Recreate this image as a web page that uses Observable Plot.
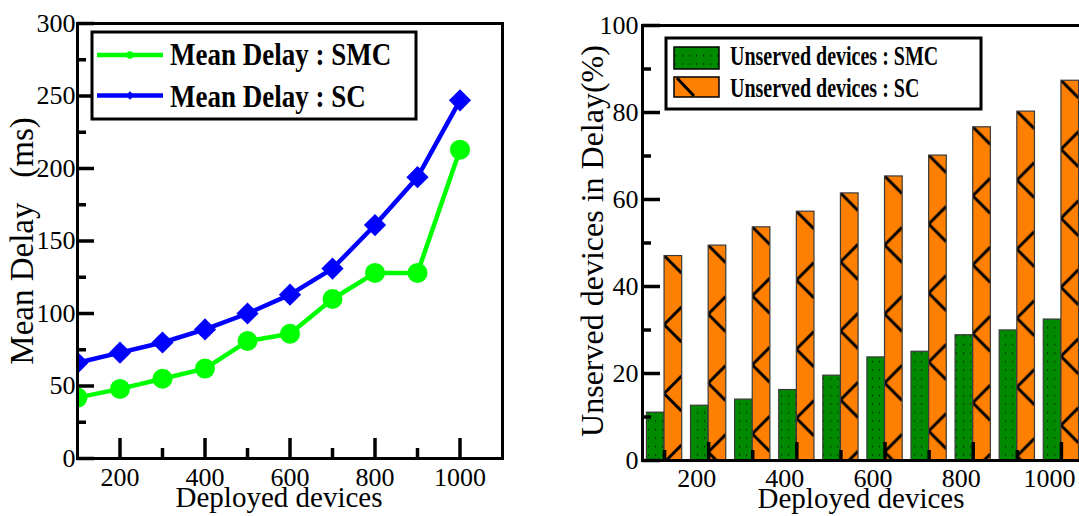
<!DOCTYPE html>
<html>
<head>
<meta charset="utf-8">
<script src="https://cdn.jsdelivr.net/npm/d3@7"></script>
<script src="https://cdn.jsdelivr.net/npm/@observablehq/plot@0.6"></script>
<style>
  html, body { margin: 0; padding: 0; background: #fff; overflow: hidden; }
  #fig { position: relative; width: 1079px; height: 516px; }
  #fig > svg { position: absolute; top: 0; }
  #overlay { left: 0; pointer-events: none; }
  #overlay text { white-space: pre; }
</style>
</head>
<body>
<div id="fig"></div>
<script>
// ---- data -------------------------------------------------------------
const devices = [100, 200, 300, 400, 500, 600, 700, 800, 900, 1000];

// mean delay (ms)
const delaySMC = [42, 48, 55, 62, 81, 86, 110, 128, 128, 213];
const delaySC  = [66, 73, 80, 89, 100, 113, 131, 161, 194, 247];

// unserved devices in delay (%)
const unservedSMC = [11.0, 12.6, 14.0, 16.2, 19.5, 23.7, 25.0, 28.8, 29.9, 32.4];
const unservedSC  = [47.0, 49.4, 53.6, 57.2, 61.4, 65.3, 70.1, 76.6, 80.2, 87.3];

const delayLegend    = ["Mean Delay : SMC", "Mean Delay : SC"];
const unservedLegend = ["Unserved devices : SMC", "Unserved devices : SC"];

const deviceTicks      = [200, 400, 600, 800, 1000];
const deviceMinorLeft  = [300, 500, 700, 900];
const deviceMinorRight = [100, 300, 500, 700, 900];
const delayTicks       = [0, 50, 100, 150, 200, 250, 300];
const delayMinor       = [25, 75, 125, 175, 225, 275];
const shareTicks       = [0, 20, 40, 60, 80, 100];
const shareMinor       = [10, 30, 50, 70, 90];

// ---- styling ----------------------------------------------------------
const SERIF  = '"Liberation Serif", "Times New Roman", serif';
const LIME   = "#00ff00";
const BLUE   = "#0000ff";
const GREEN  = "#008a00";
const ORANGE = "#ff8000";
const TICK_W = 3.5;
const BAR_HALF = 40;        // width of one bar, in device units
const CHEVRON_PERIOD = 69;  // vertical repeat of the SC hatching (px)

const delayRows = devices.map((d, i) => ({devices: d, smc: delaySMC[i], sc: delaySC[i]}));
const shareRows = devices.map((d, i) => ({devices: d, smc: unservedSMC[i], sc: unservedSC[i]}));

// inward-pointing tick marks: a full-frame tick trimmed down to `len` pixels
const ticksX = (ticks, len, frameH) =>
  Plot.tickX(ticks, {x: d => d, insetTop: frameH - len, stroke: "black", strokeWidth: TICK_W});
const ticksY = (ticks, len, frameW) =>
  Plot.tickY(ticks, {y: d => d, insetRight: frameW - len, stroke: "black", strokeWidth: TICK_W});
const tickLabelsX = (ticks, opts = {}) =>
  Plot.axisX({ticks, tickSize: 0, tickFormat: "d", fontSize: 26, fontFamily: SERIF, fill: "black", label: null, ...opts});
const tickLabelsY = (ticks, opts = {}) =>
  Plot.axisY({ticks, tickSize: 0, tickFormat: "d", fontSize: 26, fontFamily: SERIF, fill: "black", label: null, ...opts});

// ---- left: mean delay line chart ---------------------------------------
const L = {width: 540, height: 516, marginLeft: 77, marginRight: 38, marginTop: 23, marginBottom: 58};
const LW = L.width - L.marginLeft - L.marginRight;
const LH = L.height - L.marginTop - L.marginBottom;

const left = Plot.plot({
  ...L,
  style: {fontFamily: SERIF, color: "black", background: "white"},
  x: {domain: [100, 1100], label: null},
  y: {domain: [0, 300], label: null},
  marks: [
    Plot.line(delayRows, {x: "devices", y: "smc", stroke: LIME, strokeWidth: 4.5, clip: true}),
    Plot.dot(delayRows, {x: "devices", y: "smc", r: 10, fill: LIME, stroke: null, clip: true}),
    Plot.line(delayRows, {x: "devices", y: "sc", stroke: BLUE, strokeWidth: 4.5, clip: true}),
    Plot.dot(delayRows, {x: "devices", y: "sc", r: 10, symbol: "diamond2", fill: BLUE, stroke: null, clip: true}),
    Plot.frame({stroke: "black", strokeWidth: 3}),
    ticksX(deviceTicks, 20, LH),
    ticksX(deviceMinorLeft, 10, LH),
    ticksY(delayTicks, 17, LW),
    ticksY(delayMinor, 9, LW),
    tickLabelsX(deviceTicks, {tickPadding: 9}),
    tickLabelsY(delayTicks, {tickPadding: 2})
  ]
});
left.style.left = "0px";

// ---- right: unserved devices grouped bars -------------------------------
const R = {width: 539, height: 516, marginLeft: 102, marginRight: 0, marginTop: 25, marginBottom: 56};
const RW = R.width - R.marginLeft - R.marginRight;
const RH = R.height - R.marginTop - R.marginBottom;

const right = Plot.plot({
  ...R,
  style: {fontFamily: SERIF, color: "black", background: "white"},
  x: {domain: [50, 1041], label: null},
  y: {domain: [0, 100], label: null},
  marks: [
    Plot.rectY(shareRows, {x1: d => d.devices - BAR_HALF, x2: "devices", y: "smc",
      fill: GREEN, stroke: "#3a3a3a", strokeWidth: 1.2}),
    Plot.rectY(shareRows, {x1: "devices", x2: d => d.devices + BAR_HALF, y: "sc",
      fill: ORANGE, stroke: "#3a3a3a", strokeWidth: 1.2}),
    Plot.frame({anchor: "left", stroke: "black", strokeWidth: 3}),
    Plot.frame({anchor: "top", stroke: "black", strokeWidth: 3}),
    Plot.frame({anchor: "bottom", stroke: "black", strokeWidth: 3}),
    ticksX(deviceTicks, 18, RH),
    ticksX(deviceMinorRight, 10, RH),
    ticksY(shareTicks, 18, RW),
    ticksY(shareMinor, 9, RW),
    tickLabelsX(deviceTicks, {tickPadding: 8, dx: -12}),
    tickLabelsY(shareTicks, {tickPadding: 4})
  ]
});
right.style.left = "540px";

// dotted green fill
function addDots(defs, id) {
  const p = defs.append("pattern").attr("id", id).attr("patternUnits", "userSpaceOnUse")
    .attr("width", 7).attr("height", 8.5);
  p.append("rect").attr("width", 7).attr("height", 8.5).attr("fill", GREEN);
  p.append("rect").attr("x", 3).attr("y", 4).attr("width", 1.1).attr("height", 1.1).attr("fill", "#000");
}
// chevron hatching anchored at the top-left corner of a box
function addChevron(defs, id, x, y, w) {
  const half = CHEVRON_PERIOD / 2;
  const p = defs.append("pattern").attr("id", id).attr("patternUnits", "userSpaceOnUse")
    .attr("x", x).attr("y", y - half).attr("width", w).attr("height", CHEVRON_PERIOD);
  p.append("rect").attr("width", w).attr("height", CHEVRON_PERIOD).attr("fill", ORANGE);
  p.append("path").attr("d", `M${w},${half - w}L0,${half}L${w},${half + w}`)
    .attr("fill", "none").attr("stroke", "#000").attr("stroke-width", 3);
}

{
  const svg = d3.select(right);
  const defs = svg.insert("defs", ":first-child");
  addDots(defs, "smc-dots");
  // the two bar marks, in drawing order: SMC then SC
  const [smcBars, scBars] = svg.selectAll('g[aria-label="rect"]').nodes();
  d3.select(smcBars).selectAll("rect").attr("fill", "url(#smc-dots)");
  d3.select(scBars).selectAll("rect").each(function (_, i) {
    const x = +this.getAttribute("x"), y = +this.getAttribute("y"), w = +this.getAttribute("width");
    addChevron(defs, `sc-chevron-${i}`, x, y, w);
    this.setAttribute("fill", `url(#sc-chevron-${i})`);
  });
}

const fig = document.getElementById("fig");
fig.append(left, right);

// ---- legends and axis titles ----------------------------------------------
const ov = d3.select(fig).append("svg").attr("id", "overlay")
  .attr("width", 1079).attr("height", 516)
  .attr("font-family", SERIF);
const ovDefs = ov.append("defs");
addDots(ovDefs, "legend-dots");

// left legend
ov.append("rect").attr("x", 92).attr("y", 32).attr("width", 324).attr("height", 87)
  .attr("fill", "white").attr("stroke", "black").attr("stroke-width", 3);
const leftEntries = [
  {label: delayLegend[0], color: LIME, y: 55, base: 65, symbol: d3.symbolCircle},
  {label: delayLegend[1], color: BLUE, y: 95.5, base: 106.5, symbol: d3.symbolDiamond2}
];
for (const e of leftEntries) {
  ov.append("line").attr("x1", 97).attr("x2", 163).attr("y1", e.y).attr("y2", e.y)
    .attr("stroke", e.color).attr("stroke-width", 4.5);
  ov.append("path").attr("d", d3.symbol(e.symbol, 45)()).attr("transform", `translate(130,${e.y})`)
    .attr("fill", e.color);
  ov.append("text").attr("transform", `translate(170,${e.base}) scale(1,1.2)`)
    .attr("font-size", 27).attr("font-weight", "bold").text(e.label);
}

// right legend
ov.append("rect").attr("x", 666).attr("y", 38).attr("width", 315).attr("height", 71)
  .attr("fill", "white").attr("stroke", "black").attr("stroke-width", 3);
ov.append("rect").attr("x", 674).attr("y", 47).attr("width", 45).attr("height", 22)
  .attr("fill", "url(#legend-dots)").attr("stroke", "#000").attr("stroke-width", 1.5);
ov.append("rect").attr("x", 674).attr("y", 77).attr("width", 45).attr("height", 20)
  .attr("fill", ORANGE).attr("stroke", "#000").attr("stroke-width", 1.5);
ov.append("line").attr("x1", 677).attr("y1", 78).attr("x2", 694).attr("y2", 96)
  .attr("stroke", "#000").attr("stroke-width", 3);
[[unservedLegend[0], 65], [unservedLegend[1], 96.5]].forEach(([t, base]) => {
  ov.append("text").attr("transform", `translate(730,${base}) scale(1,1.35)`)
    .attr("font-size", 20).attr("font-weight", "bold").text(t);
});

// axis titles
ov.append("text").attr("transform", "translate(33,241) rotate(-90)")
  .attr("text-anchor", "middle").attr("font-size", 33).text("Mean Delay   (ms)");
ov.append("text").attr("transform", "translate(603,241) rotate(-90)")
  .attr("text-anchor", "middle").attr("font-size", 32).text("Unserved devices in Delay(%)");
ov.append("text").attr("x", 279).attr("y", 507)
  .attr("text-anchor", "middle").attr("font-size", 29).text("Deployed devices");
ov.append("text").attr("x", 861).attr("y", 508)
  .attr("text-anchor", "middle").attr("font-size", 29).text("Deployed devices");
</script>
</body>
</html>
